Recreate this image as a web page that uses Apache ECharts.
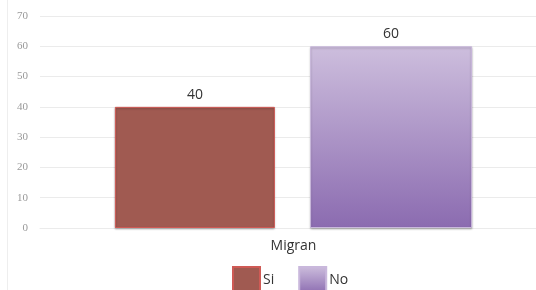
<!DOCTYPE html>
<html>
<head>
    <meta charset="UTF-8">
    <title>Migran</title>
    <style>
        html, body { margin: 0; padding: 0; background: #fff; }
        #chart { width: 536px; height: 290px; }
    </style>
    <script src="https://cdn.jsdelivr.net/npm/echarts@6/dist/echarts.min.js"></script>
</head>
<body>
<div id="chart"></div>
<script>
    var categories = ['Migran'];
    var siValues = [40];
    var noValues = [60];
    var yTicks = [0, 10, 20, 30, 40, 50, 60, 70];

    var chart = echarts.init(document.getElementById('chart'), null, {renderer: 'canvas'});

    var labelStyle = {
        show: true,
        position: 'top',
        distance: 5,
        color: '#333',
        fontSize: 14,
        fontFamily: 'Open Sans'
    };

    chart.setOption({
        animation: false,
        grid: {left: 40, width: 507, top: 16, bottom: 62, outerBoundsMode: 'none', containLabel: false},
        graphic: [{
            type: 'line',
            shape: {x1: 7.5, y1: 0, x2: 7.5, y2: 290},
            style: {stroke: '#eeeeee', lineWidth: 1}
        }],
        legend: {
            top: 266,
            left: 232,
            padding: 0,
            icon: 'rect',
            itemWidth: 27,
            itemHeight: 26,
            itemGap: 24,
            textStyle: {color: '#333', fontSize: 14, fontFamily: 'Open Sans', padding: [8, 0, 0, -2]},
            data: ['Si', 'No']
        },
        xAxis: {
            type: 'category',
            data: categories,
            axisLine: {lineStyle: {color: '#ebebeb'}},
            axisTick: {show: false},
            axisLabel: {color: '#333', fontSize: 14, fontFamily: 'Open Sans', margin: 11}
        },
        yAxis: {
            type: 'value',
            min: yTicks[0],
            max: yTicks[yTicks.length - 1],
            interval: 10,
            axisLine: {show: false},
            axisTick: {show: false},
            splitLine: {lineStyle: {color: '#ebebeb'}},
            axisLabel: {color: '#999', fontSize: 11, fontFamily: 'Liberation Serif', margin: 12}
        },
        series: [{
            name: 'Si',
            type: 'bar',
            data: siValues,
            barWidth: 160,
            barGap: '22%',
            itemStyle: {
                color: '#a05a51',
                borderColor: '#cf5a55',
                borderWidth: 1,
                shadowColor: 'rgba(0,0,0,0.25)',
                shadowBlur: 2,
                shadowOffsetY: 1
            },
            label: labelStyle
        }, {
            name: 'No',
            type: 'bar',
            data: noValues,
            barWidth: 162,
            itemStyle: {
                color: new echarts.graphic.LinearGradient(0, 0, 0, 1, [
                    {offset: 0, color: '#cdbedd'},
                    {offset: 1, color: '#8b6bb0'}
                ]),
                borderColor: '#c9b8dc',
                borderWidth: 1,
                shadowColor: 'rgba(0,0,0,0.25)',
                shadowBlur: 2,
                shadowOffsetY: 1
            },
            label: labelStyle
        }]
    });
</script>
</body>
</html>
